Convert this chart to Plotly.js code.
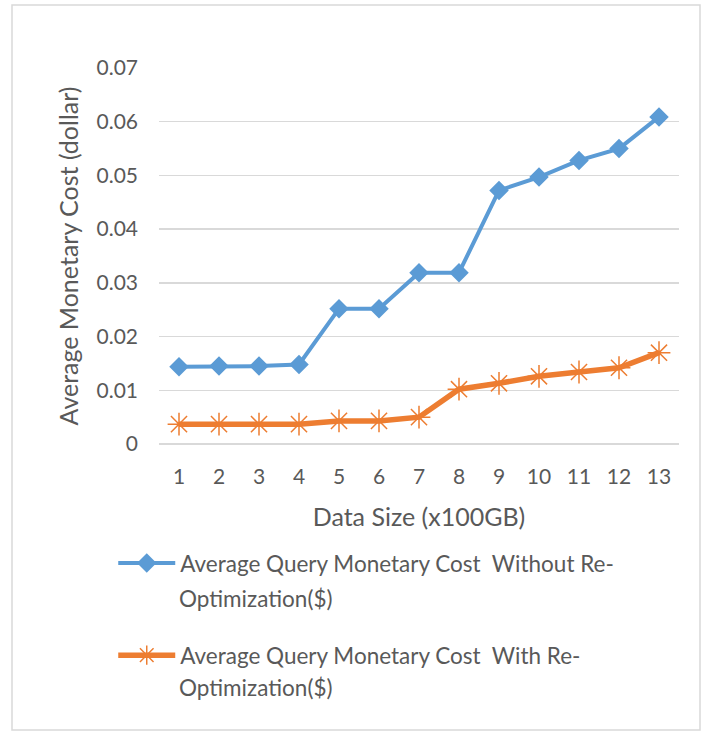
<!DOCTYPE html>
<html>
<head>
<meta charset="utf-8">
<script src="https://cdn.plot.ly/plotly-3.0.1.min.js"></script>
<style>html,body{margin:0;padding:0;background:#fff;}#chart{width:718px;height:731px;}</style>
</head>
<body>
<div id="chart"></div>
<script>
const dataSizes = [1,2,3,4,5,6,7,8,9,10,11,12,13];
const costWithout = [0.0144,0.0145,0.0145,0.0148,0.0252,0.0252,0.0319,0.0319,0.0472,0.0497,0.0528,0.0550,0.0609];
const costWith = [0.0037,0.0037,0.0037,0.0037,0.0043,0.0043,0.0050,0.0102,0.0113,0.0126,0.0134,0.0142,0.0170];
const nameWithout = ["Average Query Monetary Cost\u00a0 Without Re-", "Optimization($)"];
const nameWith = ["Average Query Monetary Cost\u00a0 With Re-", "Optimization($)"];
const yTicks = [0,0.01,0.02,0.03,0.04,0.05,0.06,0.07];
const yTickText = ["0","0.01","0.02","0.03","0.04","0.05","0.06","0.07"];

const FONT = "Lato, 'Open Sans', sans-serif";
const TXT = "#595959";
const blue = "#5B9BD5", orange = "#ED7D31";
const LEGSIZE = 22.5, TITLESIZE = 25;

const traces = [
  {x: dataSizes, y: costWithout, type: "scatter", mode: "lines+markers", name: nameWithout[0],
   legendgroup: "a",
   line: {color: blue, width: 4}, marker: {symbol: "diamond", size: 15, color: blue}},
  {x: dataSizes, y: costWith, type: "scatter", mode: "lines+markers", name: nameWith[0],
   legendgroup: "b",
   line: {color: orange, width: 5.5}, marker: {symbol: "asterisk-open", size: 19, color: orange, line: {color: orange, width: 1.5}}}
];

const layout = {
  width: 718, height: 731,
  margin: {l: 159, r: 39, t: 68, b: 287},
  paper_bgcolor: "#fff", plot_bgcolor: "#fff",
  font: {family: FONT, color: TXT, size: 21},
  showlegend: true,
  legend: {orientation: "v", x: -0.088, xanchor: "left", y: -0.26, yanchor: "top",
           font: {family: FONT, size: LEGSIZE, color: TXT}, tracegroupgap: 60, itemwidth: 57,
           bgcolor: "rgba(0,0,0,0)"},
  xaxis: {range: [0.5, 13.5], tickvals: dataSizes, ticktext: dataSizes.map(String),
          showgrid: false, zeroline: false, showline: false, ticks: "",
          ticklabelstandoff: 18,
          tickfont: {family: FONT, size: 21, color: TXT},
          title: {text: "Data Size (x100GB)", font: {family: FONT, size: TITLESIZE, color: TXT}, standoff: 21},
          fixedrange: true},
  yaxis: {range: [0, 0.07], tickvals: yTicks, ticktext: yTickText,
          showgrid: true, gridcolor: "#D9D9D9", gridwidth: 1.3,
          zeroline: true, zerolinecolor: "#D9D9D9", zerolinewidth: 1.5,
          showline: false, ticks: "", ticklabelstandoff: 20,
          tickfont: {family: FONT, size: 21, color: TXT},
          title: {text: "Average Monetary Cost (dollar)", font: {family: FONT, size: TITLESIZE, color: TXT}, standoff: 10},
          fixedrange: true},
  shapes: [
    {type: "rect", xref: "paper", yref: "paper", x0: -0.2827, x1: 1.0404, y0: -0.7606, y1: 1.1676,
     line: {color: "#D9D9D9", width: 1.5}, fillcolor: "rgba(0,0,0,0)", layer: "below"}
  ],
  annotations: [
    {text: nameWithout[1], xref: "paper", yref: "paper", x: (177-159)/520, y: (444-598)/376,
     xanchor: "left", yanchor: "middle", showarrow: false, font: {family: FONT, size: LEGSIZE, color: TXT}},
    {text: nameWith[1], xref: "paper", yref: "paper", x: (177-159)/520, y: (444-687)/376,
     xanchor: "left", yanchor: "middle", showarrow: false, font: {family: FONT, size: LEGSIZE, color: TXT}}
  ]
};

Plotly.newPlot("chart", traces, layout, {displayModeBar: false, staticPlot: true});
</script>
</body>
</html>
